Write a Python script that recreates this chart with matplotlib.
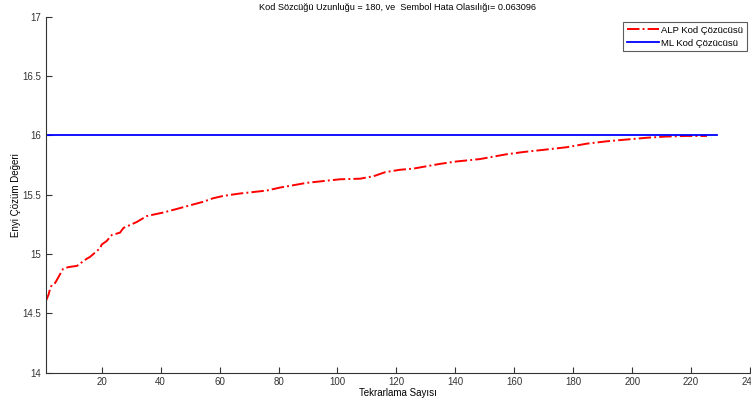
import matplotlib
matplotlib.use("Agg")
import matplotlib.pyplot as plt

title = "Kod Sözcüğü Uzunluğu = 180, ve  Sembol Hata Olasılığı= 0.063096"
xlabel = "Tekrarlama Sayısı"
ylabel = "Enyi Çözüm Değeri"
alp_label = "ALP Kod Çözücüsü"
ml_label = "ML Kod Çözücüsü"

alp_x = [1, 2, 2.5, 3.1, 4.2, 6.9, 8.7, 11.6, 14.9, 16.0, 19.5, 20.0, 21.7, 23.4, 26.2, 27.4,
         31.9, 35.3, 40.9, 45.5, 49.9, 54.4, 57.8, 61.3, 66.9, 76.0, 80.5, 89.6, 100.9, 107.7,
         112.2, 116.2, 121.2, 125.8, 130.3, 134.9, 140.4, 148.3, 157.2, 163.2, 168.8, 177.8,
         184.6, 191.4, 198.2, 205.0, 211.6, 218.5, 225.4]
alp_y = [14.60, 14.66, 14.71, 14.74, 14.756, 14.875, 14.89, 14.90, 14.96, 14.975, 15.05,
         15.08, 15.11, 15.16, 15.18, 15.22, 15.27, 15.32, 15.35, 15.38, 15.41, 15.44,
         15.47, 15.49, 15.51, 15.535, 15.56, 15.60, 15.63, 15.635, 15.655, 15.69, 15.71,
         15.72, 15.74, 15.76, 15.78, 15.80, 15.84, 15.86, 15.875, 15.90, 15.93, 15.95,
         15.965, 15.98, 15.99, 15.995, 15.995]
ml_x = [1, 228.8]
ml_y = [16.0, 16.0]

xticks = [20, 40, 60, 80, 100, 120, 140, 160, 180, 200, 220, 240]
yticks = [14, 14.5, 15, 15.5, 16, 16.5, 17]
ytick_labels = ["14", "14.5", "15", "15.5", "16", "16.5", "17"]

plt.rcParams['font.family'] = ['Liberation Sans', 'DejaVu Sans']
fig = plt.figure(figsize=(7.51, 4.05), dpi=100)
W, H = 751.0, 405.0
ax = fig.add_axes([45.7 / W, 1 - 372.7 / H, (750 - 45.7) / W, (372.7 - 16.7) / H])

ax.plot(alp_x, alp_y, color='#ff0000', linestyle='-.', linewidth=1.4, label=alp_label)
ax.plot(ml_x, ml_y, color='#0000ff', linestyle='-', linewidth=1.3, label=ml_label)

ax.set_xlim(1, 240)
ax.set_ylim(14, 17)
ax.set_xticks(xticks)
ax.set_yticks(yticks)
ax.set_yticklabels(ytick_labels)
for s in ['top', 'right']:
    ax.spines[s].set_visible(False)
for s in ['left', 'bottom']:
    ax.spines[s].set_color('#333333')
    ax.spines[s].set_linewidth(0.8)
ax.tick_params(direction='in', length=4, width=0.8, colors='#333333', labelsize=7, pad=3)

ax.set_title(title, fontsize=6.6, pad=5)
ax.set_xlabel(xlabel, fontsize=7, labelpad=1)
ax.set_ylabel(ylabel, fontsize=7, labelpad=1)

leg = ax.legend(loc='upper right', fontsize=6.8, frameon=True, fancybox=False,
                edgecolor='#333333', borderpad=0.4, handlelength=3.4, handletextpad=0.25,
                labelspacing=0.4, borderaxespad=0,
                bbox_to_anchor=(747 / W, 1 - 22 / H), bbox_transform=fig.transFigure)
leg.get_frame().set_linewidth(0.8)

fig.savefig("out.png", dpi=100)
